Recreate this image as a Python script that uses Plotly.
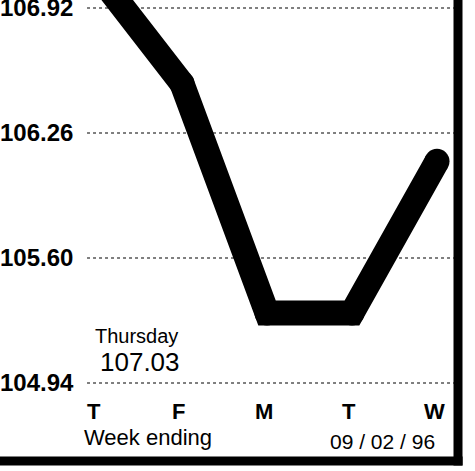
import plotly.graph_objects as go

days = ["T", "F", "M", "T", "W"]
values = [107.10, 106.52, 105.31, 105.31, 106.11]
tick_vals = [106.92, 106.26, 105.60, 104.94]
tick_text = ["106.92", "106.26", "105.60", "104.94"]
note_title = "Thursday"
note_value = "107.03"
footer_left = "Week ending"
footer_right = "09 / 02 / 96"

x_idx = list(range(len(days)))

fig = go.Figure()
fig.add_trace(go.Scatter(
    x=x_idx, y=values, mode="lines+markers",
    line=dict(color="black", width=25),
    marker=dict(color="black", size=25, symbol="circle", line=dict(width=0)),
    hoverinfo="skip", showlegend=False,
))

FONT = "Liberation Sans, Arial, sans-serif"

annotations = []
for v, t in zip(tick_vals, tick_text):
    annotations.append(dict(
        x=-0.004, xref="paper", y=v, yref="y", text=t, showarrow=False,
        xanchor="left", yanchor="middle",
        font=dict(family=FONT, size=24, color="black", weight="bold"),
    ))
for i, d in zip(x_idx, days):
    annotations.append(dict(
        x=i, xref="x", y=0.108, yref="paper", text=d, showarrow=False,
        xanchor="center", yanchor="middle", xshift=-3,
        font=dict(family=FONT, size=22, color="black", weight="bold"),
    ))
annotations += [
    dict(x=0.179, xref="paper", y=0.052, yref="paper", text=footer_left,
         showarrow=False, xanchor="left", yanchor="middle",
         font=dict(family=FONT, size=22, color="black")),
    dict(x=0.954, xref="paper", y=0.043, yref="paper", text=footer_right,
         showarrow=False, xanchor="right", yanchor="middle",
         font=dict(family=FONT, size=21, color="black")),
    dict(x=0.203, xref="paper", y=0.271, yref="paper", text=note_title,
         showarrow=False, xanchor="left", yanchor="middle",
         font=dict(family=FONT, size=20, color="black")),
    dict(x=0.215, xref="paper", y=0.215, yref="paper", text=note_value,
         showarrow=False, xanchor="left", yanchor="middle",
         font=dict(family=FONT, size=26, color="black")),
]

shapes = []
for v in tick_vals:
    shapes.append(dict(
        type="line", xref="paper", yref="y", x0=0.19, x1=1.0, y0=v, y1=v,
        line=dict(color="#555555", width=1.5, dash="dot"), layer="below",
    ))
shapes += [
    dict(type="line", xref="paper", yref="paper", x0=1.0, x1=1.0, y0=-0.01, y1=1.0,
         line=dict(color="black", width=9)),
    dict(type="line", xref="paper", yref="paper", x0=0.0, x1=1.01, y0=0.0, y1=0.0,
         line=dict(color="black", width=9)),
]

fig.update_layout(
    width=475, height=471,
    margin=dict(l=0, r=17, t=0, b=10, autoexpand=False),
    paper_bgcolor="white", plot_bgcolor="white",
    xaxis=dict(range=[-1.141, 4.247], visible=False, fixedrange=True),
    yaxis=dict(range=[104.528, 106.962], visible=False, fixedrange=True),
    annotations=annotations, shapes=shapes,
    showlegend=False,
)

fig.write_html(
    "out.html",
    config={"displayModeBar": False},
    post_script="document.body.style.margin='0';document.body.style.overflow='hidden';",
)
